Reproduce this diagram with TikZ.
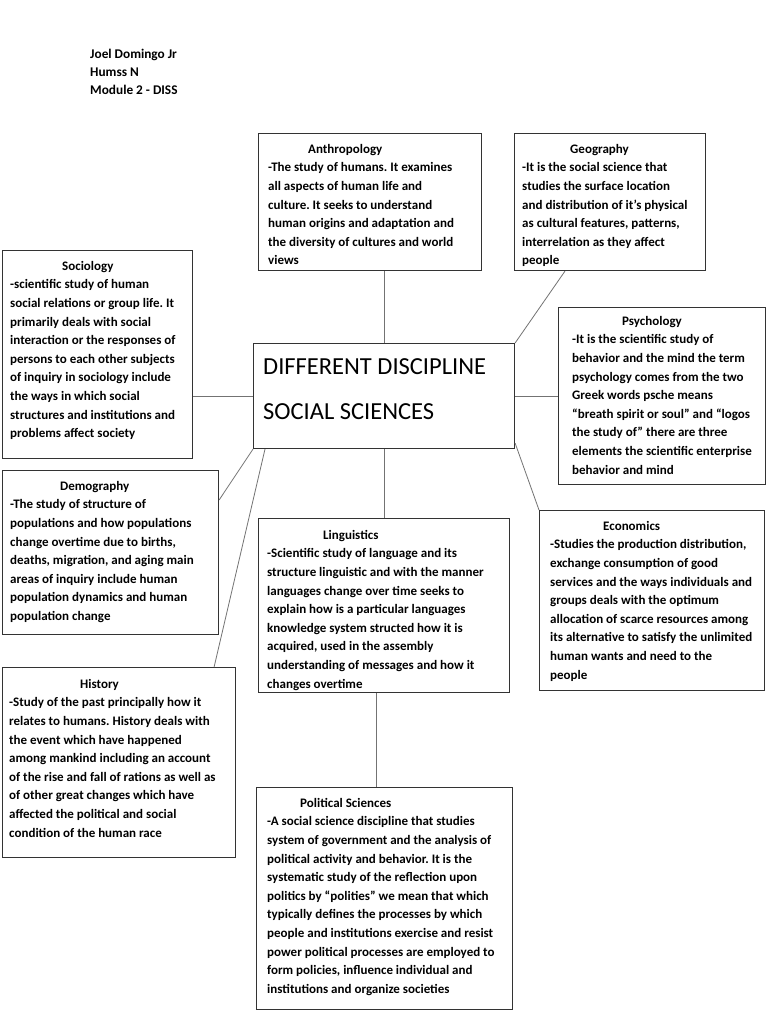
\documentclass[tikz,border=0pt]{standalone}
\usepackage{fontspec}
\setmainfont{Carlito}
\frenchspacing
\begin{document}
\begin{tikzpicture}[x=1pt,y=-1pt,
  box/.style={draw=black!80,line width=1.1pt,anchor=north west,inner sep=0pt,fill=white},
  txt/.style={anchor=north west,inner sep=0pt,align=left,font=\fontsize{13}{18.6}\selectfont\bfseries\frenchspacing},
  conn/.style={draw=black!55,line width=0.8pt}]
\useasboundingbox[fill=white] (0,0) rectangle (768,1024);

% header
\node[anchor=north west,inner sep=0pt,align=left,font=\fontsize{13.3}{18}\selectfont\bfseries] (hdr) at (90,46)
{\strut Joel Domingo Jr\\Humss N\\Module 2 - DISS};

% boxes
\node[box,minimum width=223pt,minimum height=137pt] (anth) at (258,133) {};
\node[box,minimum width=191pt,minimum height=137pt] (geo) at (514,133) {};
\node[box,minimum width=190pt,minimum height=208pt] (soc) at (2,250) {};
\node[box,minimum width=261pt,minimum height=105pt] (cen) at (253,343) {};
\node[box,minimum width=207pt,minimum height=177pt] (psy) at (558,307) {};
\node[box,minimum width=216pt,minimum height=164pt] (demo) at (2,470) {};
\node[box,minimum width=251pt,minimum height=174pt] (ling) at (258,518) {};
\node[box,minimum width=225pt,minimum height=180pt] (econ) at (539,510) {};
\node[box,minimum width=233pt,minimum height=190pt] (hist) at (2,667) {};
\node[box,minimum width=256pt,minimum height=222pt] (pol) at (256,787) {};

% central text
\node[anchor=base west,inner sep=0pt,font=\fontsize{24.5}{30}\selectfont] (cen1) at (263,374) {DIFFERENT DISCIPLINE};
\node[anchor=base west,inner sep=0pt,font=\fontsize{24.5}{30}\selectfont] (cen2) at (263,419) {SOCIAL SCIENCES};

% box texts
\node[txt] (anthT) at ([xshift=10pt,yshift=-7pt]anth.north west) {\strut\hspace*{40pt}Anthropology\\
-The study of humans. It examines\\
all aspects of human life and\\
culture. It seeks to understand\\
human origins and adaptation and\\
the diversity of cultures and world\\
views};

\node[txt] (geoT) at ([xshift=8pt,yshift=-7pt]geo.north west) {\strut\hspace*{48pt}Geography\\
-It is the social science that\\
studies the surface location\\
and distribution of it’s physical\\
as cultural features, patterns,\\
interrelation as they affect\\
people};

\node[txt] (socT) at ([xshift=8pt,yshift=-7pt]soc.north west) {\strut\hspace*{52pt}Sociology\\
-scientific study of human\\
social relations or group life. It\\
primarily deals with social\\
interaction or the responses of\\
persons to each other subjects\\
of inquiry in sociology include\\
the ways in which social\\
structures and institutions and\\
problems affect society};

\node[txt] (psyT) at ([xshift=14pt,yshift=-5pt]psy.north west) {\strut\hspace*{50pt}Psychology\\
-It is the scientific study of\\
behavior and the mind the term\\
psychology comes from the two\\
Greek words psche means\\
“breath spirit or soul” and “logos\\
the study of” there are three\\
elements the scientific enterprise\\
behavior and mind};

\node[txt] (demoT) at ([xshift=8pt,yshift=-7pt]demo.north west) {\strut\hspace*{50pt}Demography\\
-The study of structure of\\
populations and how populations\\
change overtime due to births,\\
deaths, migration, and aging main\\
areas of inquiry include human\\
population dynamics and human\\
population change};

\node[txt] (lingT) at ([xshift=9pt,yshift=-8pt]ling.north west) {\strut\hspace*{56pt}Linguistics\\
-Scientific study of language and its\\
structure linguistic and with the manner\\
languages change over time seeks to\\
explain how is a particular languages\\
knowledge system structed how it is\\
acquired, used in the assembly\\
understanding of messages and how it\\
changes overtime};

\node[txt] (econT) at ([xshift=11pt,yshift=-7pt]econ.north west) {\strut\hspace*{53pt}Economics\\
-Studies the production distribution,\\
exchange consumption of good\\
services and the ways individuals and\\
groups deals with the optimum\\
allocation of scarce resources among\\
its alternative to satisfy the unlimited\\
human wants and need to the\\
people};

\node[txt] (histT) at ([xshift=7pt,yshift=-8pt]hist.north west) {\strut\hspace*{71pt}History\\
-Study of the past principally how it\\
relates to humans. History deals with\\
the event which have happened\\
among mankind including an account\\
of the rise and fall of rations as well as\\
of other great changes which have\\
affected the political and social\\
condition of the human race};

\node[txt] (polT) at ([xshift=11pt,yshift=-7pt]pol.north west) {\strut\hspace*{33pt}Political Sciences\\
-A social science discipline that studies\\
system of government and the analysis of\\
political activity and behavior. It is the\\
systematic study of the reflection upon\\
politics by “polities” we mean that which\\
typically defines the processes by which\\
people and institutions exercise and resist\\
power political processes are employed to\\
form policies, influence individual and\\
institutions and organize societies};

% connectors
\draw[conn] (cen.north) -- (cen.north |- anth.south);
\draw[conn] (cen.north east) -- ([xshift=51pt]geo.south west);
\draw[conn] (cen.west) -- (cen.west -| soc.east);
\draw[conn] (cen.east) -- (cen.east -| psy.west);
\draw[conn] (cen.south west) -- ([yshift=-30pt]demo.north east);
\draw[conn] ([xshift=12pt]cen.south west) -- ([xshift=-22pt]hist.north east);
\draw[conn] (cen.south) -- (cen.south |- ling.north);
\draw[conn] ([yshift=6pt]cen.south east) -- (econ.north west);
\draw[conn] ([xshift=-8pt]ling.south) -- ([xshift=-8pt]ling.south |- pol.north);
\end{tikzpicture}
\end{document}
